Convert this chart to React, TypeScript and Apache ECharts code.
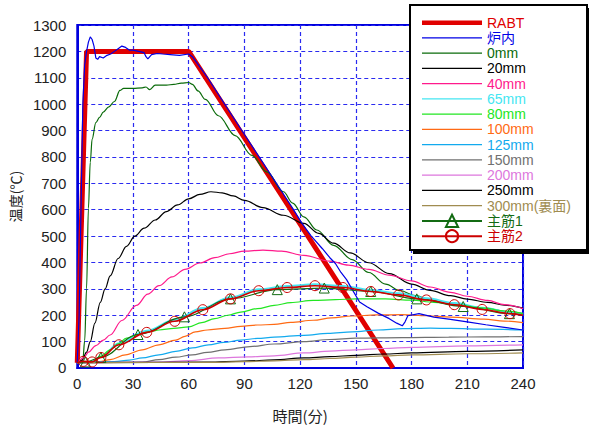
import React, { useEffect, useRef } from "react";
import * as echarts from "echarts";

// ---- data (time in minutes, temperature in °C) ----
const xTicks = [0, 30, 60, 90, 120, 150, 180, 210, 240];
const yTicks = [0, 100, 200, 300, 400, 500, 600, 700, 800, 900, 1000, 1100, 1200, 1300];

const seriesNames = ["RABT", "炉内", "0mm", "20mm", "40mm", "65mm", "80mm", "100mm", "125mm", "150mm", "200mm", "250mm", "300mm(裏面)", "主筋1", "主筋2"];
const seriesColors = ["#e00000", "#0000e6", "#0a6b0a", "#000000", "#ff1a8c", "#44e6f2", "#22e622", "#ff6a14", "#12aaee", "#707070", "#dd77dd", "#000000", "#a08c50", "#136b13", "#cc0000"];

const rabt = [[0, 20], [5, 1200], [60, 1200], [170, 0]];
const furnace = [[0, 20], [1, 200], [2, 600], [3, 1000], [4, 1150], [5, 1200], [6, 1235], [7, 1255], [8, 1245], [9, 1220], [10, 1175], [11, 1170], [12, 1180], [14, 1175], [16, 1185], [18, 1190], [20, 1200], [22, 1210], [24, 1220], [26, 1215], [28, 1205], [30, 1205], [33, 1200], [36, 1195], [37, 1180], [38, 1172], [40, 1188], [43, 1192], [46, 1190], [50, 1188], [55, 1185], [60, 1190], [62, 1180], [70, 1102], [80, 993], [90, 885], [100, 778], [110, 670], [116, 605], [121, 548], [126, 500], [132, 452], [136, 418], [139, 396], [142, 362], [145, 335], [148, 298], [152, 250], [156, 232], [162, 208], [168, 187], [172, 170], [175, 160], [176.5, 175], [178, 198], [184, 206], [192, 193], [200, 185], [210, 175], [220, 164], [230, 154], [240, 144]];
const mm0 = [[0, 20], [3, 30], [4, 104], [5, 300], [6, 605], [7, 780], [8, 868], [10, 930], [12, 950], [14, 970], [17, 990], [20, 1010], [23, 1052], [25, 1060], [30, 1060], [35, 1062], [37, 1065], [39, 1055], [42, 1072], [48, 1072], [52, 1075], [56, 1080], [60, 1082], [62, 1075], [65, 1050], [69, 1018], [76, 956], [85, 881], [94, 806], [102, 743], [111, 668], [116, 625], [122, 573], [129, 523], [138, 465], [148, 411], [157, 362], [166, 318], [174, 293], [182, 274], [191, 257], [201, 243], [210, 234], [221, 225], [230, 215], [240, 206]];
const mm20 = [[0, 20], [2.6, 30], [5, 60], [7, 100], [9.5, 170], [12.4, 249], [15, 300], [17.7, 349], [22, 415], [26.5, 461], [31, 500], [36, 530], [42, 561], [48, 593], [54, 618], [60, 641], [66, 658], [72, 668], [78, 664], [84, 652], [90, 635], [100, 608], [111, 579], [122, 548], [130, 510], [138, 473], [147, 436], [157, 399], [168, 358], [180, 318], [190, 294], [201, 274], [210, 261], [221, 249], [230, 238], [240, 227]];
const mm40 = [[0, 20], [3.5, 38], [6, 60], [10, 85], [14, 106], [17.7, 125], [24, 180], [31.8, 237], [38, 280], [44, 312], [51, 345], [58, 374], [66, 398], [74, 418], [82, 433], [90, 443], [100, 447], [110, 443], [122, 427], [136, 405], [146, 390], [157, 374], [168, 352], [180, 330], [190, 307], [201, 287], [210, 272], [221, 256], [230, 240], [240, 225]];
const mm65 = [[0, 20], [8, 24], [13, 44], [22.4, 94], [37.4, 141], [52.5, 183], [67.6, 227], [82.5, 268], [97.7, 298], [113, 311], [128, 317], [143, 311], [158, 296], [173, 283], [188, 264], [203, 246], [218, 228], [233, 211], [240, 205]];
const mm80 = [[0, 20], [8, 22], [12.4, 44], [18, 70], [22, 92], [26.5, 113], [33, 128], [39, 138], [44, 144], [52, 150], [60, 156], [67, 172], [74, 187], [81, 200], [88, 212], [97, 225], [106, 237], [115, 248], [127, 256], [139, 259], [150, 262], [166, 262], [180, 257], [192, 249], [205, 238], [219, 227], [230, 216], [240, 206]];
const mm100 = [[0, 20], [12, 24], [17.7, 32], [26, 50], [35, 69], [44, 88], [53, 106], [58, 120], [63.6, 137], [70, 144], [79.5, 150], [88, 158], [97, 163], [106, 165], [115, 173], [127, 181], [137, 190], [148, 197], [161, 201], [175, 202], [188, 198], [201, 193], [219, 185], [230, 178], [240, 172]];
const mm125 = [[0, 20], [20, 24], [28, 30], [35, 38], [44, 50], [53, 63], [62, 76], [70.6, 88], [79, 97], [88, 106], [97, 112], [106, 117], [122, 124], [135, 131], [148, 137], [162, 144], [175, 149], [190, 151], [201, 150], [220, 147], [240, 144]];
const mm150 = [[0, 20], [35, 22], [44, 32], [53, 41], [62, 50], [70, 59], [79.5, 69], [93, 81], [106, 91], [122, 100], [136, 108], [150, 113], [175, 115], [200, 117], [220, 118], [240, 119]];
const mm200 = [[0, 20], [45, 22], [60, 28], [76, 38], [92, 42], [106, 46], [122, 57], [136, 64], [150, 69], [165, 74], [180, 78], [210, 84], [240, 88]];
const mm250 = [[0, 20], [70, 22], [90, 26], [106, 31], [122, 38], [136, 43], [150, 48], [165, 53], [180, 57], [210, 63], [240, 69]];
const mm300 = [[0, 20], [70, 21], [90, 24], [106, 27], [122, 32], [136, 36], [150, 41], [165, 46], [180, 50], [210, 54], [240, 57]];
const rebar1 = [[0, 20], [4.4, 23], [12.7, 40], [32.7, 127], [57.7, 194], [82.5, 262], [107.7, 297], [133, 303], [158, 290], [182.8, 262], [207.8, 233], [232.7, 206], [240, 200]];
const rebar2 = [[0, 20], [3.2, 25], [8, 23], [12.7, 40], [22.4, 88], [37.4, 135], [52.5, 177], [67.6, 221], [82.5, 262], [97.7, 293], [113, 305], [128, 312], [143, 305], [158, 290], [173, 277], [188, 258], [203, 240], [218, 222], [233, 206], [240, 200]];

const seriesData = [rabt, furnace, mm0, mm20, mm40, mm65, mm80, mm100, mm125, mm150, mm200, mm250, mm300, rebar1, rebar2];

const LATIN = "'Liberation Sans', Arial, 'Noto Sans CJK JP', sans-serif";
const CJK = "'Noto Sans CJK JP', 'Liberation Sans', sans-serif";

export default function App() {
  const ref = useRef<HTMLDivElement>(null);

  useEffect(() => {
    if (!ref.current) return;
    const chart = echarts.init(ref.current, undefined, { renderer: "svg" });

    const series: any[] = seriesNames.map((name, i) => {
      const color = seriesColors[i];
      const data = seriesData[i];
      const base: any = {
        name,
        type: "line",
        color,
        z: 3,
        lineStyle: { color, width: 1.2 },
        itemStyle: { color },
        symbol: "none",
        showSymbol: false,
        smooth: 0.35,
        smoothMonotone: "x",
        data,
      };
      if (i === 0) {
        base.lineStyle = { color, width: 5 };
        base.smooth = false;
        base.z = 2;
      } else if (i === 1) {
        base.smooth = false;
        base.z = 4;
      } else if (i === 5) {
        base.lineStyle = { color, width: 2 };
      } else if (i === 13 || i === 14) {
        base.symbol = i === 13 ? "triangle" : "circle";
        base.showSymbol = true;
        base.symbolSize = 10;
        base.itemStyle = { color: "rgba(255,255,255,0)", borderColor: color, borderWidth: 1 };
        base.lineStyle = { color, width: i === 14 ? 1.6 : 1.2 };
        base.z = i === 14 ? 6 : 5;
        base.data = data.map((p, k) =>
          k === 0 || k === data.length - 1 ? { value: p, symbol: "none" } : { value: p }
        );
      }
      return base;
    });

    const lineIcon = (h: number) => `path://M0,0H60V${h}H0Z`;

    chart.setOption({
      animation: false,
      grid: {
        left: 70,
        right: 66,
        top: 25,
        bottom: 54.5,
        show: true,
        borderColor: "#0000dd",
        borderWidth: 2,
        backgroundColor: "#fff",
      },
      xAxis: {
        type: "value",
        min: 0,
        max: 240,
        interval: 30,
        name: "時間(分)",
        nameLocation: "middle",
        nameGap: 40,
        nameTextStyle: { fontSize: 15, color: "#222", fontFamily: CJK },
        axisLine: { show: true, lineStyle: { color: "#0000dd", width: 2 } },
        axisTick: { show: false },
        axisLabel: {
          margin: 8,
          fontSize: 15,
          color: "#222",
          fontFamily: LATIN,
          formatter: (v: number) => (xTicks.includes(v) ? String(v) : ""),
        },
        splitLine: { show: true, lineStyle: { color: "#2a2af0", width: 1.2, type: [4, 3] } },
      },
      yAxis: {
        type: "value",
        min: 0,
        max: 1300,
        interval: 100,
        name: "温度(℃)",
        nameLocation: "middle",
        nameRotate: 90,
        nameGap: 48,
        nameTextStyle: { fontSize: 14, color: "#222", fontFamily: CJK },
        axisLine: { show: true, lineStyle: { color: "#0000dd", width: 2 } },
        axisTick: { show: false },
        axisLabel: {
          margin: 11,
          fontSize: 15,
          color: "#222",
          fontFamily: LATIN,
          formatter: (v: number) => (yTicks.includes(v) ? String(v) : ""),
        },
        splitLine: { show: true, lineStyle: { color: "#2a2af0", width: 1.2, type: [4, 3] } },
      },
      legend: {
        orient: "vertical",
        left: 421,
        top: 15,
        padding: 0,
        itemWidth: 60,
        itemHeight: 15.25,
        itemGap: 0,
        selectedMode: false,
        z: 100,
        textStyle: { fontSize: 14, lineHeight: 15.25, fontFamily: LATIN },
        data: seriesNames.map((name, i) => {
          const item: any = {
            name,
            textStyle: { color: seriesColors[i], fontFamily: LATIN, fontSize: 14 },
          };
          if (i < 13) {
            item.icon = lineIcon(i === 0 ? 4.5 : 1.3);
            item.itemStyle = { color: seriesColors[i], borderWidth: 0 };
          }
          return item;
        }),
      },
      graphic: {
        elements: [
          {
            type: "rect",
            z: 50,
            shape: { x: 413, y: 8, width: 178, height: 246 },
            style: { fill: "#000" },
          },
          {
            type: "rect",
            z: 51,
            shape: { x: 410, y: 5, width: 177, height: 245 },
            style: { fill: "#fff", stroke: "#000", lineWidth: 2 },
          },
        ],
      },
      series,
    });

    return () => chart.dispose();
  }, []);

  return (
    <div
      ref={ref}
      style={{ position: "absolute", left: 0, top: 0, width: 589, height: 428, background: "#fff" }}
    />
  );
}
